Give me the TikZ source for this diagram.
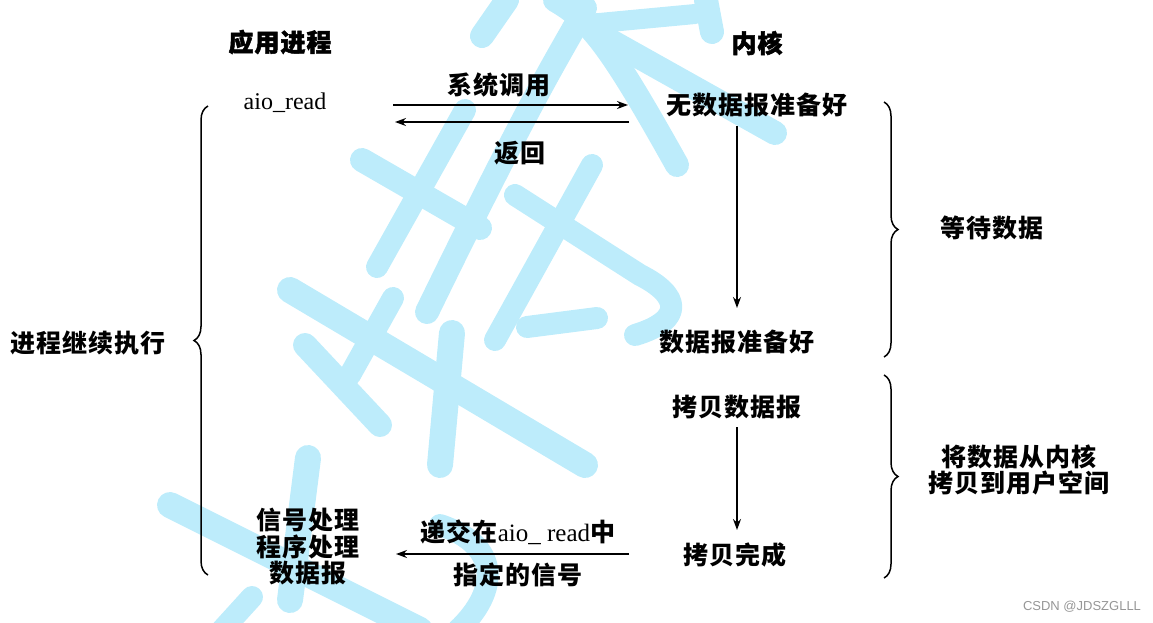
\documentclass[tikz,border=0pt]{standalone}
\usepackage{fontspec}
\usetikzlibrary{arrows.meta,decorations.pathreplacing}
\newfontfamily\cjkfont{Noto Sans CJK SC}[LetterSpace=4]
\newfontfamily\cjkheadfont{Noto Sans CJK SC}[LetterSpace=4,FakeBold=2]
\newfontfamily\latfont{Liberation Serif}
\newfontfamily\markfont{Liberation Sans}
\definecolor{wmblue}{RGB}{189,236,251}
\definecolor{markgray}{RGB}{150,150,150}
\begin{document}
\begin{tikzpicture}[x=1pt,y=-1pt,
  zh/.style={inner sep=0pt,font=\cjkfont\bfseries\fontsize{25}{26.5}\selectfont},
  zhhead/.style={inner sep=0pt,font=\cjkheadfont\bfseries\fontsize{25}{26.5}\selectfont},
  lat/.style={inner sep=0pt,font=\latfont\fontsize{24}{26}\selectfont},
  wmtext/.style={inner sep=0pt,text=markgray,font=\markfont\fontsize{13}{15}\selectfont},
  arr/.style={line width=1.5pt,-{Stealth[length=11pt,width=8pt]}},
  brc/.style={line width=1.5pt,decorate,decoration={brace,amplitude=14pt}},
  wms/.style={draw=wmblue,line width=24pt,line cap=round,line join=round}]
\useasboundingbox (0,0) rectangle (1153,622);
% watermark strokes
\begin{scope}
\draw[wms] (507,0) -- (482,36);
\draw[wms] (555,0) .. controls (590,20) and (610,45) .. (677,165);
\draw[wms,line width=20pt] (578,25) -- (695,14);
\draw[wms] (706,0) -- (712,32);
\draw[wms] (600,35) -- (775,133);
\draw[wms] (585,8) .. controls (560,55) and (540,80) .. (427,312);
\draw[wms,line width=22pt] (465,110) -- (377,267);
\draw[wms] (362,160) -- (480,228);
\draw[wms,line width=22pt] (515,195) -- (640,275) .. controls (680,295) and (685,320) .. (635,335);
\draw[wms,line width=22pt] (592,165) -- (495,340);
\draw[wms,line width=22pt] (527,327) -- (597,318);
\draw[wms,line width=26pt] (290,290) -- (585,465);
\draw[wms,line width=22pt] (393,298) -- (350,375);
\draw[wms] (305,345) -- (380,425);
\draw[wms,line width=26pt] (452,333) -- (440,465);
\draw[wms,line width=26pt] (170,505) -- (420,630);
\draw[wms,line width=26pt] (308,458) -- (290,600);
\draw[wms,line width=22pt] (252,597) -- (222,630);
\draw[wms,line width=22pt] (440,525) .. controls (500,545) and (500,590) .. (458,630);
\end{scope}
% texts
\node[zhhead] (app) at (280,42) {应用进程};
\node[zhhead] (kern) at (757,43) {内核};
\node[lat] (aio) at (285,103) {aio\_read};
\node[zh] (sys) at (499,85) {系统调用};
\node[zh] (ret) at (520,153) {返回};
\node[zh] (nodata) at (757,105) {无数据报准备好};
\node[zh] (ready) at (737,342) {数据报准备好};
\node[zh] (copy) at (737,407) {拷贝数据报};
\node[zh] (done) at (735,555) {拷贝完成};
\node[zh] (cont) at (88,343) {进程继续执行};
\node[zh] (wait) at (992,228) {等待数据};
\node[zh,align=center] (kcopy) at (1019,470) {将数据从内核\\拷贝到用户空间};
\node[zh,align=center] (handler) at (308,547) {信号处理\\程序处理\\数据报};
\node[zh] (deliver) at (518,532) {递交在{\latfont\mdseries aio\_ read}中};
\node[zh] (sig) at (518,575) {指定的信号};
\node[wmtext] (csdn) at (1082,607) {CSDN @JDSZGLLL};
% connector end points
\coordinate (r1a) at (393,105);
\coordinate (r1b) at (628,105);
\coordinate (l1a) at (629,122);
\coordinate (l1b) at (395,122);
\coordinate (v1a) at (737,126);
\coordinate (v1b) at (737,308);
\coordinate (v2a) at (737,427);
\coordinate (v2b) at (737,530);
\coordinate (l2a) at (629,554);
\coordinate (l2b) at (396,554);
\draw[arr] (r1a) -- (r1b);
\draw[arr] (l1a) -- (l1b);
\draw[arr] (v1a) -- (v1b);
\draw[arr] (v2a) -- (v2b);
\draw[arr] (l2a) -- (l2b);
% braces
\coordinate (bl1) at (208,575);
\coordinate (bl2) at (208,106);
\coordinate (br1) at (884,102);
\coordinate (br2) at (884,357);
\coordinate (br3) at (884,375);
\coordinate (br4) at (884,578);
\draw[brc] (bl1) -- (bl2);
\draw[brc] (br1) -- (br2);
\draw[brc] (br3) -- (br4);
\end{tikzpicture}
\end{document}
